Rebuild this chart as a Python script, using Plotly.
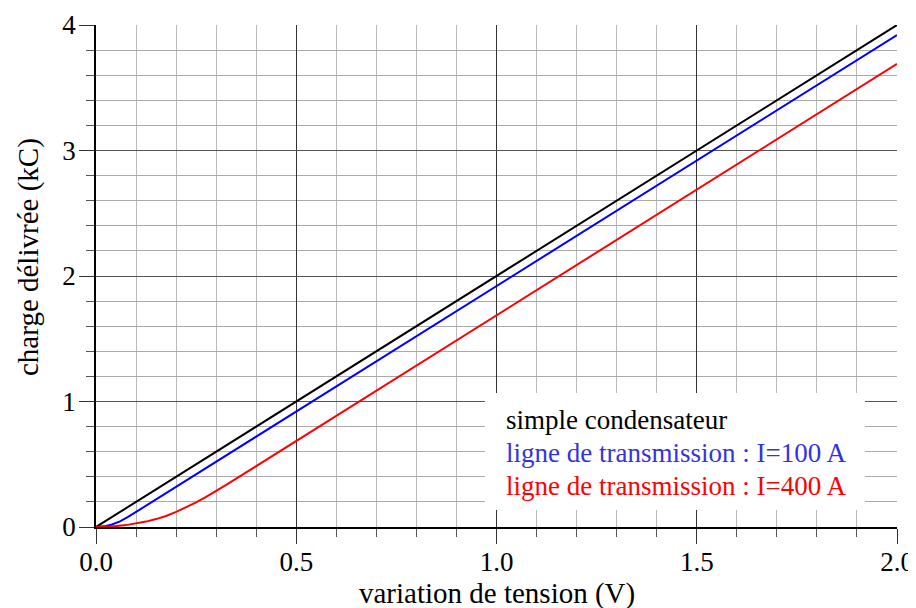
import plotly.graph_objects as go

# Data
x_black = [0.0, 2.0]
y_black = [0.0, 4.0]

x_blue = [0.0, 0.02, 0.04, 0.06, 0.08, 0.1, 0.15, 0.2, 0.3, 0.5, 1.0, 1.5, 2.0]
y_blue = [0.0, 0.005, 0.02, 0.045, 0.08, 0.12, 0.22, 0.32, 0.52, 0.92, 1.92, 2.92, 3.92]

x_red = [0.0, 0.025, 0.05, 0.075, 0.1, 0.125, 0.15, 0.175, 0.2, 0.225, 0.25, 0.275,
         0.3, 0.325, 0.35, 0.4, 0.5, 0.6, 0.8, 1.0, 1.5, 2.0]
y_red = [0.0, 0.002, 0.007, 0.015, 0.027, 0.043, 0.063, 0.088, 0.12, 0.155, 0.196,
         0.24, 0.286, 0.335, 0.385, 0.485, 0.686, 0.886, 1.287, 1.688, 2.689, 3.69]

x_ticks = [0.0, 0.5, 1.0, 1.5, 2.0]
x_ticklabels = ["0.0", "0.5", "1.0", "1.5", "2.0"]
y_ticks = [0, 1, 2, 3, 4]
y_ticklabels = ["0", "1", "2", "3", "4"]

legend_labels = ["simple condensateur",
                 "ligne de transmission : I=100 A",
                 "ligne de transmission : I=400 A"]
legend_colors = ["#000000", "#3333dd", "#ff0000"]

FONT = "Liberation Serif, Times New Roman, serif"

fig = go.Figure()
fig.add_trace(go.Scatter(x=x_black, y=y_black, mode="lines",
                         line=dict(color="#000000", width=2), showlegend=False))
fig.add_trace(go.Scatter(x=x_blue, y=y_blue, mode="lines",
                         line=dict(color="#0000ff", width=2), showlegend=False))
fig.add_trace(go.Scatter(x=x_red, y=y_red, mode="lines",
                         line=dict(color="#ff0000", width=2), showlegend=False))

# legend box
fig.add_shape(type="rect", x0=0.971, x1=1.92, y0=0.135, y1=1.068,
              xref="x", yref="y", fillcolor="white", line=dict(width=0),
              layer="between")

for i, (lab, col) in enumerate(zip(legend_labels, legend_colors)):
    fig.add_annotation(x=1.018, y=0.85 - i * 0.26, xref="x", yref="y",
                       text=lab, showarrow=False, xanchor="left", yanchor="middle",
                       font=dict(family=FONT, size=27, color=col))

# axis titles
fig.add_annotation(x=-68 / 801, y=(527 - 257) / 502, xref="paper", yref="paper",
                   text="charge délivrée (kC)", textangle=-90, showarrow=False,
                   xanchor="center", yanchor="middle",
                   font=dict(family=FONT, size=29, color="black"))
fig.add_annotation(x=0.5, y=-67 / 502, xref="paper", yref="paper",
                   text="variation de tension (V)", showarrow=False,
                   xanchor="center", yanchor="middle",
                   font=dict(family=FONT, size=29, color="black"))

fig.update_layout(
    width=916, height=608,
    margin=dict(l=88, r=27, t=17, b=89),
    paper_bgcolor="white", plot_bgcolor="white",
    font=dict(family=FONT, size=27, color="black"),
    showlegend=False,
)

fig.update_xaxes(
    range=[0, 2.0], tickvals=x_ticks, ticktext=x_ticklabels,
    showgrid=True, gridcolor="#333333", gridwidth=1,
    ticks="outside", ticklen=15, tickcolor="#333333", tickwidth=1,
    showline=True, linecolor="black", linewidth=1.5,
    zeroline=False, automargin=False, ticklabelstandoff=-5,
    minor=dict(dtick=0.1, showgrid=True, gridcolor="#bbbbbb", gridwidth=1,
               ticks="outside", ticklen=8, tickcolor="#555555"),
    tickfont=dict(family=FONT, size=27),
)
fig.update_yaxes(
    range=[0, 4.0], tickvals=y_ticks, ticktext=y_ticklabels,
    showgrid=True, gridcolor="#555555", gridwidth=1,
    ticks="outside", ticklen=15, tickcolor="#333333", tickwidth=1,
    showline=True, linecolor="black", linewidth=1.5,
    zeroline=False, automargin=False, ticklabelstandoff=-2,
    minor=dict(dtick=0.2, showgrid=True, gridcolor="#aaaaaa", gridwidth=1,
               ticks="outside", ticklen=8, tickcolor="#555555"),
    tickfont=dict(family=FONT, size=27),
)

fig.write_html("out.html")
